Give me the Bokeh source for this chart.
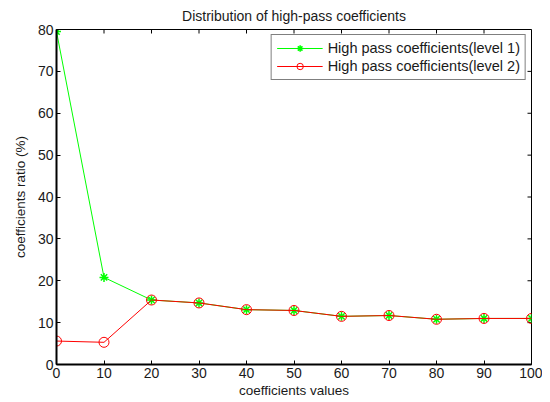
import math
from bokeh.plotting import figure
from bokeh.models import Range1d, FixedTicker, Legend, LegendItem
from bokeh.embed import file_html
from bokeh.resources import INLINE

x_values = [0, 10, 20, 30, 40, 50, 60, 70, 80, 90, 100]
level1 = [79.5, 20.8, 15.4, 14.7, 13.1, 12.9, 11.5, 11.7, 10.8, 11.0, 11.0]
level2 = [5.6, 5.3, 15.4, 14.7, 13.1, 12.9, 11.5, 11.7, 10.8, 11.0, 11.0]
x_ticks = list(range(0, 101, 10))
y_ticks = list(range(0, 81, 10))
x_min, x_max = 0, 100
y_min, y_max = 0, 80

FONT = "Liberation Sans"
TXT = "#1a1a1a"

p = figure(width=542, height=400, output_backend="svg", toolbar_location=None,
           x_range=Range1d(x_min, x_max), y_range=Range1d(y_min, y_max),
           min_border_left=56, min_border_right=11, min_border_top=29, min_border_bottom=34,
           title="Distribution of high-pass coefficients")
p.title.align = "center"
p.title.text_font = FONT
p.title.text_font_size = "14px"
p.title.text_font_style = "normal"
p.title.text_color = TXT
p.title.standoff = 11

p.grid.visible = False
p.outline_line_color = "black"
p.outline_line_width = 1
p.background_fill_color = "white"
p.border_fill_color = "white"

for ax in [p.xaxis[0], p.yaxis[0]]:
    ax.major_tick_in = 4
    ax.major_tick_out = 0
    ax.minor_tick_in = 0
    ax.minor_tick_out = 0
    ax.axis_line_color = "black"
    ax.axis_line_width = 2
    ax.major_tick_line_color = "black"
    ax.major_label_text_font = FONT
    ax.major_label_text_font_size = "14px"
    ax.major_label_text_color = TXT
    ax.axis_label_text_font = FONT
    ax.axis_label_text_font_size = "13.5px"
    ax.axis_label_text_font_style = "normal"
    ax.axis_label_text_color = TXT

p.xaxis[0].ticker = FixedTicker(ticks=x_ticks)
p.yaxis[0].ticker = FixedTicker(ticks=y_ticks)
p.xaxis[0].axis_label = "coefficients values"
p.yaxis[0].axis_label = "coefficients ratio (%)"
p.xaxis[0].major_label_standoff = 3
p.xaxis[0].axis_label_standoff = 2
p.yaxis[0].major_label_standoff = 3
p.yaxis[0].axis_label_standoff = 7

# inward tick marks on the top and right edges of the box
p.ray(x=x_ticks, y=[y_max] * len(x_ticks), length=4, length_units="screen",
      angle=-math.pi / 2, line_color="black", line_width=1)
p.ray(x=[x_max] * len(y_ticks), y=y_ticks, length=4, length_units="screen",
      angle=math.pi, line_color="black", line_width=1)

GREEN = "#00ff00"
RED = "#ff0000"

l1 = p.line(x_values, level1, line_color=GREEN, line_width=1)
m1 = p.scatter(x_values, level1, marker="asterisk", size=9, line_color=GREEN, line_width=1.5)
l2 = p.line(x_values, level2, line_color=RED, line_width=1)
m2 = p.scatter(x_values, level2, marker="circle", size=10, line_color=RED, fill_color=None, line_width=1)

legend = Legend(items=[
    LegendItem(label="High pass coefficients(level 1)", renderers=[l1, m1]),
    LegendItem(label="High pass coefficients(level 2)", renderers=[l2, m2]),
], location="top_right")
legend.label_text_font = FONT
legend.label_text_font_size = "14.5px"
legend.label_text_color = TXT
legend.border_line_color = "black"
legend.border_line_width = 1.5
legend.glyph_width = 46
legend.glyph_height = 16
legend.label_height = 16
legend.spacing = 2
legend.padding = 5
legend.margin = 5
legend.label_standoff = 5
legend.background_fill_alpha = 1
p.add_layout(legend)

open("out.html", "w").write(file_html(p, INLINE))
